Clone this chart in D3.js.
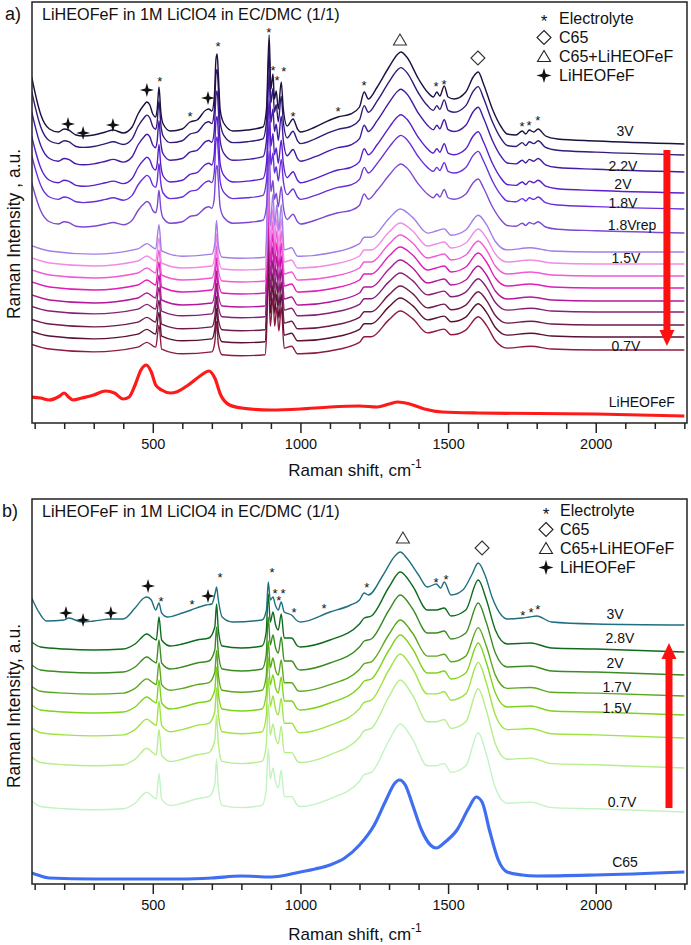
<!DOCTYPE html>
<html><head><meta charset="utf-8">
<script src="https://cdn.jsdelivr.net/npm/d3@7"></script>
<style>
body{margin:0;background:#fff}
svg{display:block}
text{font-family:"Liberation Sans",Arial,Helvetica,sans-serif;fill:#111}
</style>
</head><body>
<svg id="chart" width="691" height="945"></svg>
<script>
// ---------------- DATA ----------------
const majorTicks = [500, 1000, 1500, 2000];
const majorTickLabels = ["500", "1000", "1500", "2000"];
const minorTicks = [100,200,300,400,600,700,800,900,1100,1200,1300,1400,1600,1700,1800,1900,2100,2200,2300];

// panel a : profile of 3V-type spectra (height above the flat high-shift baseline)
const shiftA = [90,100,120,150,180,200,215,240,264,300,340,366,400,430,450,470,480,490,500,510,515,521,527,535,560,600,626,650,680,690,700,708,714,718,722,728,740,772,820,873,885,894,900,907,912,918,925,935,942,955,975,990,1000,1050,1100,1127,1170,1200,1216,1230,1260,1300,1330,1340,1360,1400,1430,1450,1462,1472,1487,1500,1520,1560,1585,1602,1620,1650,1680,1700,1730,1751,1763,1775,1790,1805,1830,1870,2000,2300];
const profileAHigh = [67,53,30,15,12,15,14,9,8,9,12,14,11,17,30,39,42,39,30,27,35,57,33,20,13,15,22,24,34,35,33,45,85,90,70,35,21,13,14,17,35,109,55,70,45,53,35,62,35,18,25,15,12,17,24,27,30,37,52,45,57,77,90,92,87,65,52,47,52,48,58,47,45,52,67,72,60,35,17,10,9,13,10,14,12,15,8,5,3,0];
// panel a : profile of the reduced (low voltage) spectra
const shiftALow = [90,150,300,450,480,510,521,530,600,700,710,716,722,735,800,880,885,891,898,907,913,920,927,935,945,970,990,1000,1100,1200,1216,1240,1300,1338,1380,1430,1460,1487,1510,1560,1602,1630,1660,1700,1780,1850,2000,2300];
const profileALow = [6,1,-2,3,8,3,26,1,-4,-2,8,30,6,-5,-6,-5,15,85,25,55,25,45,20,45,2,4,-4,-4,-1,8,14,14,32,41,33,18,20,22,16,21,35,26,10,2,4,1,0,0];

const seriesANames = ["3V","","2.2V","2V","1.8V","1.8Vrep","","1.5V","","","","","","","0.7V"];
const seriesAOffset = [279,268,251,230,214,190,171,159,147,135,122,111,98,86,73];
const seriesAGain = [1.0,0.95,0.9,0.85,0.8,0.75,1.05,1.0,1.0,1.0,1.0,0.95,0.95,0.95,0.95];
const seriesAProfile = ["high","high","high","high","high","high","low","low","low","low","low","low","low","low","low"];
const seriesAColor = ["#1c1040","#33197a","#4319a6","#5a1fcc","#6a2fdc","#7d48d2","#a27de8","#f28ae6","#f05ad6","#e01cba","#b3189a","#862076","#6e1a4c","#5a1234","#8e1a42"];

// LiHEOFeF reference (panel a)
const refShiftA = [90,120,150,185,200,215,230,260,300,340,370,400,420,440,460,478,495,510,530,560,580,620,660,690,710,730,760,800,900,1000,1100,1200,1260,1300,1330,1370,1420,1480,1600,2000,2300];
const refLiHEOFeF = [26,25,23,27,30,26,23,25,28,32,30,24,26,38,53,58,51,38,33,30,31,38,47,52,45,28,18,15,13,14,16,17,16,19,21,19,14,11,10,9,7];

// panel b : profiles
const shiftB = [90,110,140,200,215,260,300,360,400,440,470,480,495,510,521,530,550,600,630,680,700,712,716,722,735,770,870,885,891,898,907,915,925,935,945,970,990,1000,1100,1170,1200,1216,1230,1280,1320,1338,1360,1400,1430,1460,1475,1487,1510,1550,1580,1602,1625,1650,1680,1700,1750,1775,1800,1850,2000,2300];
const profileBHigh = [27,15,4,5,7,3,4,6,6,17,27,28,25,15,22,12,8,12,15,20,21,33,38,25,8,3,5,15,43,25,28,20,15,23,13,10,4,3,13,20,25,32,30,50,69,73,67,50,38,41,37,43,30,35,50,62,50,27,10,6,7,8,9,3,1,0];
const shiftBLow = [90,120,200,300,400,440,480,500,512,521,530,560,600,650,690,710,716,722,735,800,870,884,891,898,907,915,925,935,945,970,990,1000,1100,1200,1216,1240,1300,1338,1380,1430,1460,1487,1510,1560,1602,1630,1660,1700,1780,1850,2000,2300];
const profileBLow = [10,5,3,2,3,8,18,14,12,35,12,6,8,12,14,25,48,22,6,4,6,20,58,30,40,28,22,38,14,14,6,5,12,28,34,36,65,80,66,42,42,44,36,42,72,52,22,8,9,4,3,0];

const seriesBNames = ["3V","2.8V","2V","1.7V","1.5V","","","0.7V"];
const seriesBOffset = [259,232,209,188,169,146,116,72];
const seriesBGain = [1.0,1.0,1.0,0.95,1.0,1.05,1.1,1.1];
const seriesBProfile = ["high","low","low","low","low","low","low","low"];
const seriesBColor = ["#1f6f80","#0d6b1c","#3a8c22","#5aa81e","#7ed41c","#9fe444","#b5ee8a","#c3f3c3"];

// C65 reference (panel b)
const refShiftB = [90,110,150,300,500,600,700,800,900,1000,1050,1100,1150,1200,1250,1290,1320,1335,1355,1380,1410,1440,1460,1490,1530,1570,1595,1615,1640,1670,1700,1750,1800,2000,2300];
const refC65 = [11,9,6,5,5,5,6,8,7,12,15,19,26,39,59,84,101,104,99,79,54,39,36,42,54,76,87,82,54,24,12,9,8,9,12];

// annotation markers [shift, intensity]
const starsA = [[524,345],[626,310],[721,380],[893,394],[907,356],[921,346],[944,355],[975,310],[1127,315],[1215,341],[1459,340],[1486,342],[1750,300],[1774,301],[1804,306]];
const sparklesA = [[213,299],[264,290],[365,298],[480,333],[687,325]];
const trianglesA = [[1337,383]];
const diamondsA = [[1601,365]];
const starsB = [[528,286],[633,283],[728,310],[904,315],[914,294],[927,287],[941,294],[978,275],[1080,279],[1225,300],[1459,305],[1493,308],[1753,272],[1781,275],[1804,278]];
const sparklesB = [[206,271],[264,264],[358,271],[484,298],[687,288]];
const trianglesB = [[1347,346]];
const diamondsB = [[1615,336]];

const legendLabels = ["Electrolyte","C65","C65+LiHEOFeF","LiHEOFeF"];
const titleText = "LiHEOFeF in 1M LiClO4 in EC/DMC (1/1)";

// ---------------- DRAWING ----------------
const svg = d3.select("#chart");
const xDomain = [91, 2309];
const plotLeft = 32, plotRight = 687;

function sparklePath(cx, cy, r) {
  const ri = r * 0.32;
  let p = "";
  for (let k = 0; k < 8; k++) {
    const a = -Math.PI / 2 + k * Math.PI / 4;
    const rr = k % 2 === 0 ? r : ri;
    p += (k === 0 ? "M" : "L") + (cx + rr * Math.cos(a)) + "," + (cy + rr * Math.sin(a));
  }
  return p + "Z";
}

function drawPanel(cfg) {
  const g = svg.append("g");
  const x = d3.scaleLinear().domain(xDomain).range([plotLeft, plotRight]);
  const y = d3.scaleLinear().domain([0, cfg.bottom - cfg.top]).range([cfg.bottom, cfg.top]);
  const line = d3.line().x(d => x(d[0])).y(d => y(d[1])).curve(d3.curveMonotoneX);

  g.append("clipPath").attr("id", "clip" + cfg.id).append("rect")
    .attr("x", plotLeft).attr("y", cfg.top).attr("width", plotRight - plotLeft).attr("height", cfg.bottom - cfg.top);
  const plot = g.append("g").attr("clip-path", "url(#clip" + cfg.id + ")");

  // reference spectrum
  plot.append("path").datum(cfg.refX.map((s, i) => [s, cfg.refY[i]]))
    .attr("d", line).attr("fill", "none").attr("stroke", cfg.refColor).attr("stroke-width", 3.2);

  // stacked spectra: draw bottom first
  for (let i = cfg.offsets.length - 1; i >= 0; i--) {
    const hi = cfg.profiles[i] === "high";
    const sx = hi ? cfg.highX : cfg.lowX;
    const pr = hi ? cfg.highY : cfg.lowY;
    const pts = sx.map((s, j) => [s, cfg.offsets[i] + cfg.gains[i] * pr[j]]);
    plot.append("path").datum(pts).attr("d", line).attr("fill", "none")
      .attr("stroke", cfg.colors[i]).attr("stroke-width", 1.4).attr("stroke-linejoin", "round");
  }

  // arrow
  const ax = x(cfg.arrow.x), y0 = y(cfg.arrow.from), y1 = y(cfg.arrow.to);
  const dir = y1 > y0 ? 1 : -1;
  const headLen = 16, shaftW = 7, headW = 15;
  g.append("rect").attr("x", ax - shaftW / 2).attr("width", shaftW)
    .attr("y", Math.min(y0, y1 - dir * headLen)).attr("height", Math.abs((y1 - dir * headLen) - y0))
    .attr("fill", "#ff1010");
  g.append("path").attr("d", `M${ax - headW / 2},${y1 - dir * headLen}L${ax + headW / 2},${y1 - dir * headLen}L${ax},${y1}Z`)
    .attr("fill", "#ff1010");

  // labels for spectra
  cfg.labels.forEach(l => {
    g.append("text").attr("x", x(l[0])).attr("y", y(l[1])).attr("text-anchor", "middle")
      .attr("dominant-baseline", "central").attr("font-size", 14).text(l[2]);
  });

  // markers
  cfg.stars.forEach(d => {
    g.append("text").attr("x", x(d[0])).attr("y", y(d[1]) + 7.5).attr("text-anchor", "middle")
      .attr("font-size", 13).attr("fill", "#222").text("*");
  });
  cfg.sparkles.forEach(d => {
    g.append("path").attr("d", sparklePath(x(d[0]), y(d[1]), 7)).attr("fill", "#111");
  });
  cfg.triangles.forEach(d => {
    const cx = x(d[0]), cy = y(d[1]);
    g.append("path").attr("d", `M${cx},${cy - 6}L${cx + 6.5},${cy + 5}L${cx - 6.5},${cy + 5}Z`)
      .attr("fill", "none").attr("stroke", "#333").attr("stroke-width", 1.1);
  });
  cfg.diamonds.forEach(d => {
    const cx = x(d[0]), cy = y(d[1]);
    g.append("path").attr("d", `M${cx},${cy - 7}L${cx + 7},${cy}L${cx},${cy + 7}L${cx - 7},${cy}Z`)
      .attr("fill", "none").attr("stroke", "#333").attr("stroke-width", 1.1);
  });

  // frame
  g.append("rect").attr("x", plotLeft).attr("y", cfg.top).attr("width", plotRight - plotLeft)
    .attr("height", cfg.bottom - cfg.top).attr("fill", "none").attr("stroke", "#222").attr("stroke-width", 1.5);

  // axes
  const axMajor = d3.axisBottom(x).tickValues(majorTicks).tickSize(10).tickPadding(6)
    .tickFormat((d, i) => majorTickLabels[i]);
  const gm = g.append("g").attr("transform", `translate(0,${cfg.bottom})`).call(axMajor);
  gm.select(".domain").remove();
  gm.selectAll("line").attr("stroke", "#222").attr("stroke-width", 1.5);
  gm.selectAll("text").attr("font-size", 14.5).attr("fill", "#111")
    .style("font-family", "'Liberation Sans',Arial,sans-serif");
  const axMinor = d3.axisBottom(x).tickValues(minorTicks).tickSize(6).tickFormat("");
  const gn = g.append("g").attr("transform", `translate(0,${cfg.bottom})`).call(axMinor);
  gn.select(".domain").remove();
  gn.selectAll("line").attr("stroke", "#222").attr("stroke-width", 1.5);

  // axis titles
  const xt = g.append("text").attr("x", 355).attr("y", cfg.xTitleY).attr("text-anchor", "middle")
    .attr("font-size", 17);
  xt.append("tspan").text("Raman shift, cm");
  xt.append("tspan").attr("dy", -8).attr("font-size", 12).text("-1");
  g.append("text").attr("transform", `translate(${cfg.yTitleX},${cfg.yTitleY}) rotate(-90)`)
    .attr("text-anchor", "middle").attr("dominant-baseline", "central").attr("font-size", 17.5).text(cfg.yTitle);

  // title and panel letter
  g.append("text").attr("x", 42).attr("y", cfg.top + 18).attr("font-size", 16.2).text(titleText);
  g.append("text").attr("x", cfg.letterX).attr("y", cfg.top + 18).attr("font-size", 18).text(cfg.letter);

  // legend
  cfg.legendRows.forEach((ly, i) => {
    const sx = cfg.legendSymX, cy = ly;
    if (i === 0) {
      g.append("text").attr("x", sx).attr("y", cy + 9).attr("text-anchor", "middle").attr("font-size", 17).text("*");
    } else if (i === 1) {
      g.append("path").attr("d", `M${sx},${cy - 7}L${sx + 7},${cy}L${sx},${cy + 7}L${sx - 7},${cy}Z`)
        .attr("fill", "none").attr("stroke", "#222").attr("stroke-width", 1.1);
    } else if (i === 2) {
      g.append("path").attr("d", `M${sx},${cy - 6}L${sx + 6.5},${cy + 5}L${sx - 6.5},${cy + 5}Z`)
        .attr("fill", "none").attr("stroke", "#222").attr("stroke-width", 1.1);
    } else {
      g.append("path").attr("d", sparklePath(sx, cy, 7.5)).attr("fill", "#111");
    }
    g.append("text").attr("x", cfg.legendTextX).attr("y", cy).attr("dominant-baseline", "central")
      .attr("font-size", 16).text(legendLabels[i]);
  });
}

drawPanel({
  id: "a", top: 2, bottom: 423, letter: "a)", letterX: 5,
  highX: shiftA, highY: profileAHigh, lowX: shiftALow, lowY: profileALow,
  offsets: seriesAOffset, gains: seriesAGain, profiles: seriesAProfile, colors: seriesAColor,
  refX: refShiftA, refY: refLiHEOFeF, refColor: "#ff1a1a",
  arrow: {x: 2241, from: 273, to: 77},
  labels: [[2099,292,"3V"],[2092,257,"2.2V"],[2092,239,"2V"],[2092,220,"1.8V"],[2123,198,"1.8Vrep"],[2102,165,"1.5V"],[2102,77,"0.7V"],[2156,21,"LiHEOFeF"]],
  stars: starsA, sparkles: sparklesA, triangles: trianglesA, diamonds: diamondsA,
  xTitleY: 476, yTitle: "Raman Intensity , a.u.", yTitleX: 14, yTitleY: 234,
  legendRows: [18, 37.5, 56.5, 75.5], legendSymX: 544, legendTextX: 559
});

drawPanel({
  id: "b", top: 499, bottom: 884, letter: "b)", letterX: 2,
  highX: shiftB, highY: profileBHigh, lowX: shiftBLow, lowY: profileBLow,
  offsets: seriesBOffset, gains: seriesBGain, profiles: seriesBProfile, colors: seriesBColor,
  refX: refShiftB, refY: refC65, refColor: "#3f6ff0",
  arrow: {x: 2248, from: 76, to: 241},
  labels: [[2065,270,"3V"],[2082,246,"2.8V"],[2065,221,"2V"],[2072,197,"1.7V"],[2072,176,"1.5V"],[2089,82,"0.7V"],[2099,22,"C65"]],
  stars: starsB, sparkles: sparklesB, triangles: trianglesB, diamonds: diamondsB,
  xTitleY: 940, yTitle: "Raman Intensity, a.u.", yTitleX: 14, yTitleY: 706,
  legendRows: [510.5, 529.5, 548.5, 567.5], legendSymX: 546, legendTextX: 560
});
</script>
</body></html>
